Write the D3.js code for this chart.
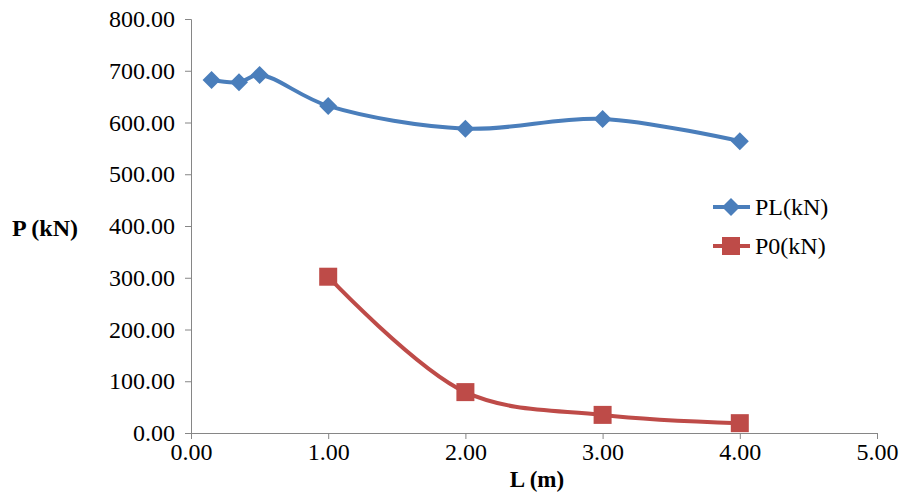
<!DOCTYPE html>
<html><head><meta charset="utf-8">
<script src="https://cdn.jsdelivr.net/npm/d3@7"></script>
<style>body{margin:0;background:#fff}svg text{font-family:"Liberation Serif","Times New Roman",serif !important}</style>
</head><body><svg width="905" height="493"></svg>
<script>
const plX = [0.15, 0.35, 0.5, 1, 2, 3, 4];
const plY = [682, 678, 692, 632, 588, 607, 564];
const p0X = [1, 2, 3, 4];
const p0Y = [302, 79, 35, 19];
const xTicks = [0, 1, 2, 3, 4, 5];
const yTicks = [0, 100, 200, 300, 400, 500, 600, 700, 800];

const svg = d3.select('svg');
const x = d3.scaleLinear().domain([0, 5]).range([191, 877]);
const y = d3.scaleLinear().domain([0, 800]).range([433, 19]);

const yAxis = svg.append('g').attr('transform', 'translate(191,0)')
  .call(d3.axisLeft(y).tickValues(yTicks).tickSize(6).tickFormat(d3.format('.2f')));
const xAxis = svg.append('g').attr('transform', 'translate(0,433)')
  .call(d3.axisBottom(x).tickValues(xTicks).tickSize(6).tickFormat(d3.format('.2f')));
[yAxis, xAxis].forEach(a => {
  a.attr('font-family', null).attr('font-size', null);
  a.selectAll('path,line').attr('stroke', '#868686');
  a.selectAll('text').style('font-size', '24px').attr('fill', '#000');
});
yAxis.selectAll('text').attr('x', -16);
xAxis.selectAll('text').attr('y', 10);

const line = d3.line().x(d => x(d[0])).y(d => y(d[1])).curve(d3.curveCatmullRom.alpha(0.5));
const pl = plX.map((v, i) => [v, plY[i]]);
const p0 = p0X.map((v, i) => [v, p0Y[i]]);
const blue = '#4a7ebb', red = '#be4b48';

svg.append('path').datum(pl).attr('d', line).attr('fill', 'none').attr('stroke', blue).attr('stroke-width', 4);
svg.append('path').datum(p0).attr('d', line).attr('fill', 'none').attr('stroke', red).attr('stroke-width', 4);

const diamond = 'M0,-9L9,0L0,9L-9,0Z';
svg.selectAll('.pl').data(pl).enter().append('path')
  .attr('transform', d => `translate(${x(d[0])},${y(d[1])})`)
  .attr('d', diamond).attr('fill', blue);
svg.selectAll('.p0').data(p0).enter().append('rect')
  .attr('x', d => x(d[0]) - 9).attr('y', d => y(d[1]) - 9)
  .attr('width', 18).attr('height', 18).attr('fill', red);

// legend
const lg = svg.append('g');
lg.append('line').attr('x1', 713).attr('x2', 750).attr('y1', 207).attr('y2', 207).attr('stroke', blue).attr('stroke-width', 4);
lg.append('path').attr('transform', 'translate(731,207)').attr('d', diamond).attr('fill', blue);
lg.append('text').attr('x', 755).attr('y', 215).text('PL(kN)').style('font-size', '24px');
lg.append('line').attr('x1', 713).attr('x2', 750).attr('y1', 246).attr('y2', 246).attr('stroke', red).attr('stroke-width', 4);
lg.append('rect').attr('x', 722).attr('y', 237).attr('width', 18).attr('height', 18).attr('fill', red);
lg.append('text').attr('x', 755).attr('y', 254).text('P0(kN)').style('font-size', '24px');

svg.append('text').attr('x', 12).attr('y', 236).text('P (kN)').style('font-size', '24px').style('font-weight', 'bold');
svg.append('text').attr('x', 537).attr('y', 487).attr('text-anchor', 'middle').text('L (m)').style('font-size', '23px').style('font-weight', 'bold');
</script></body></html>
